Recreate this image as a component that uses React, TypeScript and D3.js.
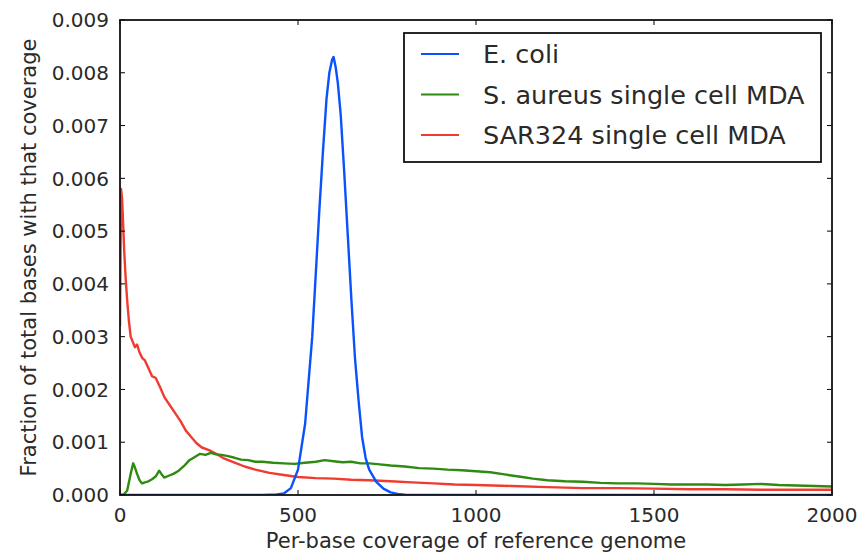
import React from "react";
import * as d3 from "d3";

const xTicks = [0, 500, 1000, 1500, 2000];
const yTicks = [0, 0.001, 0.002, 0.003, 0.004, 0.005, 0.006, 0.007, 0.008, 0.009];

const seriesNames = ["E. coli", "S. aureus single cell MDA", "SAR324 single cell MDA"];
const seriesColors = ["#0a52ff", "#2f8a12", "#ef3b30"];

const ecoli: [number, number][] = [
  [0, 0], [400, 0], [440, 0.00001], [460, 0.00003], [480, 0.00013], [500, 0.00048],
  [520, 0.00135], [540, 0.003], [560, 0.0054], [570, 0.0065], [580, 0.0075], [588, 0.008],
  [596, 0.00825], [600, 0.0083], [606, 0.0081], [612, 0.0078], [620, 0.0072], [630, 0.0061],
  [640, 0.0049], [650, 0.0037], [660, 0.0026], [670, 0.0018], [680, 0.0011], [690, 0.0007],
  [700, 0.00048], [720, 0.00025], [740, 0.00012], [760, 0.00005], [780, 0.00002], [800, 0.000005],
  [820, 0], [2000, 0],
];

const saureus: [number, number][] = [
  [0, 0], [10, 0.00001], [20, 0.00008], [30, 0.0004], [37, 0.0006], [42, 0.00052], [48, 0.0004],
  [55, 0.00028], [62, 0.00022], [70, 0.00024], [80, 0.00026], [90, 0.0003], [100, 0.00035],
  [110, 0.00046], [116, 0.0004], [124, 0.00033], [135, 0.00036], [150, 0.0004], [165, 0.00046],
  [180, 0.00055], [195, 0.00066], [210, 0.00072], [225, 0.00078], [240, 0.00076], [255, 0.0008],
  [270, 0.00077], [285, 0.00076], [300, 0.00074], [320, 0.00071], [340, 0.00067], [360, 0.00066],
  [380, 0.00063], [400, 0.00063], [430, 0.00061], [460, 0.0006], [490, 0.00059], [520, 0.00061],
  [550, 0.00063], [575, 0.00066], [600, 0.00064], [625, 0.00062], [650, 0.00063], [675, 0.0006],
  [700, 0.0006], [730, 0.00058], [760, 0.00056], [800, 0.00054], [840, 0.00051], [880, 0.0005],
  [920, 0.00048], [960, 0.00047], [1000, 0.00045], [1040, 0.00043], [1080, 0.00039], [1120, 0.00035],
  [1160, 0.00031], [1200, 0.00028], [1250, 0.00026], [1300, 0.00025], [1350, 0.00023], [1400, 0.00022],
  [1450, 0.00022], [1500, 0.00021], [1550, 0.0002], [1600, 0.0002], [1650, 0.0002], [1700, 0.00019],
  [1750, 0.0002], [1800, 0.00021], [1850, 0.00019], [1900, 0.00018], [1950, 0.00017], [2000, 0.00016],
];

const sar324: [number, number][] = [
  [0, 0.0032], [3, 0.0058], [6, 0.0056], [9, 0.0051], [12, 0.0046], [16, 0.0041], [20, 0.0037],
  [25, 0.0033], [30, 0.003], [36, 0.0029], [42, 0.0028], [48, 0.00285], [55, 0.0027], [62, 0.0026],
  [70, 0.00255], [80, 0.0024], [90, 0.00225], [100, 0.00222], [112, 0.00205], [125, 0.00185],
  [140, 0.0017], [155, 0.00155], [170, 0.0014], [185, 0.00122], [200, 0.0011], [215, 0.00098],
  [230, 0.0009], [250, 0.00085], [270, 0.00078], [290, 0.0007], [320, 0.00062], [350, 0.00054],
  [380, 0.00048], [420, 0.00042], [460, 0.00038], [500, 0.00034], [550, 0.00032], [600, 0.00031],
  [650, 0.00029], [700, 0.00028], [760, 0.00026], [820, 0.00024], [880, 0.00022], [940, 0.0002],
  [1000, 0.00019], [1100, 0.00017], [1200, 0.00015], [1300, 0.00013], [1400, 0.00013], [1500, 0.00012],
  [1600, 0.00011], [1700, 0.00011], [1800, 0.0001], [1900, 0.0001], [2000, 0.0001],
];

const W = 859;
const H = 553;
const L = 120, R = 832, T = 20, B = 495;
const FONT = "'DejaVu Sans', sans-serif";

export default function App() {
  const x = d3.scaleLinear().domain([0, 2000]).range([L, R]);
  const y = d3.scaleLinear().domain([0, 0.009]).range([B, T]);
  const line = d3.line<[number, number]>().x((d) => x(d[0])).y((d) => y(d[1]));
  const data = [ecoli, saureus, sar324];
  const drawOrder = [2, 1, 0];
  const tk = 5;
  return (
    <svg width={W} height={H} style={{ position: "absolute", left: 0, top: 0, background: "#fff" }}>
      <defs>
        <clipPath id="plot">
          <rect x={L} y={T} width={R - L} height={B - T} />
        </clipPath>
      </defs>
      <rect x={0} y={0} width={W} height={H} fill="#fff" />
      <g clipPath="url(#plot)">
        {drawOrder.map((i) => (
          <path key={i} d={line(data[i]) || ""} fill="none" stroke={seriesColors[i]} strokeWidth={2.4} strokeLinejoin="round" />
        ))}
      </g>
      {xTicks.map((t) => (
        <g key={"x" + t}>
          <line x1={x(t)} x2={x(t)} y1={B} y2={B - tk} stroke="#000" strokeWidth={1} />
          <line x1={x(t)} x2={x(t)} y1={T} y2={T + tk} stroke="#000" strokeWidth={1} />
          <text x={x(t)} y={522} textAnchor="middle" fontFamily={FONT} fontSize={20} fill="#2a2a2a">{t}</text>
        </g>
      ))}
      {yTicks.map((t) => (
        <g key={"y" + t}>
          <line x1={L} x2={L + tk} y1={y(t)} y2={y(t)} stroke="#000" strokeWidth={1} />
          <line x1={R} x2={R - tk} y1={y(t)} y2={y(t)} stroke="#000" strokeWidth={1} />
          <text x={109} y={y(t)} dy="0.36em" textAnchor="end" fontFamily={FONT} fontSize={20} fill="#2a2a2a">{t.toFixed(3)}</text>
        </g>
      ))}
      <rect x={L} y={T} width={R - L} height={B - T} fill="none" stroke="#111" strokeWidth={1.8} />
      <text x={(L + R) / 2} y={548} textAnchor="middle" fontFamily={FONT} fontSize={21} fill="#2a2a2a">Per-base coverage of reference genome</text>
      <text transform={`translate(36,${(T + B) / 2}) rotate(-90)`} textAnchor="middle" fontFamily={FONT} fontSize={21} fill="#2a2a2a">Fraction of total bases with that coverage</text>
      <rect x={404} y={33} width={417} height={129} fill="#fff" stroke="#111" strokeWidth={1.8} />
      {seriesNames.map((n, i) => {
        const ly = 54 + i * 40.5;
        return (
          <g key={n}>
            <line x1={421} x2={459} y1={ly} y2={ly} stroke={seriesColors[i]} strokeWidth={2.2} />
            <text x={483} y={ly} dy="0.36em" fontFamily={FONT} fontSize={25.5} fill="#2a2a2a">{n}</text>
          </g>
        );
      })}
    </svg>
  );
}
